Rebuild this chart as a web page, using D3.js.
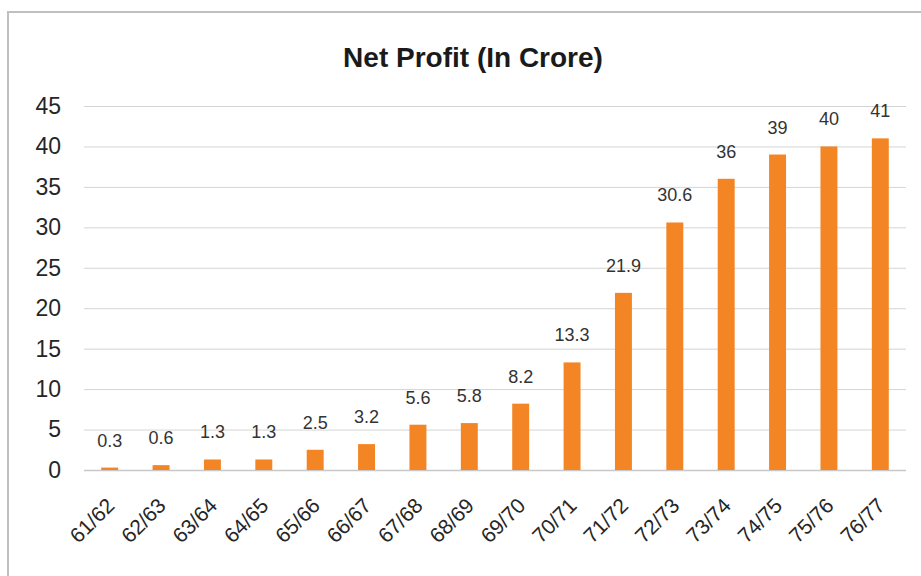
<!DOCTYPE html>
<html><head><meta charset="utf-8">
<script src="https://cdn.jsdelivr.net/npm/d3@7"></script>
<style>body{margin:0;background:#fff}svg{display:block}</style>
</head><body>
<svg id="c" width="921" height="576"></svg>
<script>
const categories = ["61/62","62/63","63/64","64/65","65/66","66/67","67/68","68/69","69/70","70/71","71/72","72/73","73/74","74/75","75/76","76/77"];
const values = [0.3,0.6,1.3,1.3,2.5,3.2,5.6,5.8,8.2,13.3,21.9,30.6,36,39,40,41];
const yTicks = [0,5,10,15,20,25,30,35,40,45];
const title = "Net Profit (In Crore)";

(function(){
const svg = d3.select("#c");
const font = "'Liberation Sans', Arial, sans-serif";
svg.append("rect").attr("x",8).attr("y",12).attr("width",930).attr("height",600)
  .attr("fill","#fff").attr("stroke","#bfbfbf").attr("stroke-width",2);

const pL=84, pR=906, pT=106, pB=470;
const x = d3.scaleBand().domain(categories).range([pL,pR]).paddingInner(0.67).paddingOuter(0.335);
const y = d3.scaleLinear().domain([0,45]).range([pB,pT]);

svg.append("text").attr("x",473).attr("y",67).attr("text-anchor","middle")
  .attr("font-family",font).attr("font-weight","bold").attr("font-size",28).attr("fill","#1a1a1a").text(title);

const yAxis = d3.axisLeft(y).tickValues(yTicks).tickSize(-(pR-pL)).tickPadding(23);
const gy = svg.append("g").attr("transform",`translate(${pL},0)`).call(yAxis);
gy.select(".domain").remove();
gy.selectAll(".tick line").attr("stroke",d=>d===0?"#c8c8c8":"#d4d4d4").attr("stroke-width",d=>d===0?1.5:1);
gy.selectAll(".tick text").attr("font-family",font).attr("font-size",23).attr("fill","#262626");

svg.append("g").selectAll("rect").data(values).join("rect")
  .attr("x",(d,i)=>x(categories[i])).attr("width",x.bandwidth())
  .attr("y",d=>y(d)).attr("height",d=>pB-y(d)).attr("fill","#F48524");

svg.append("g").selectAll("text").data(values).join("text")
  .attr("x",(d,i)=>x(categories[i])+x.bandwidth()/2).attr("y",d=>y(d)-21)
  .attr("text-anchor","middle").attr("font-family",font).attr("font-size",18).attr("fill","#333")
  .text(d=>d);

const xAxis = d3.axisBottom(x).tickSize(0).tickPadding(0);
const gx = svg.append("g").attr("transform",`translate(0,${pB})`).call(xAxis);
gx.select(".domain").remove();
gx.selectAll(".tick text").attr("font-family",font).attr("font-size",21).attr("fill","#262626")
  .attr("text-anchor","end").attr("dy",0)
  .attr("transform","translate(6,37) rotate(-45)");
})();
</script>
</body></html>
